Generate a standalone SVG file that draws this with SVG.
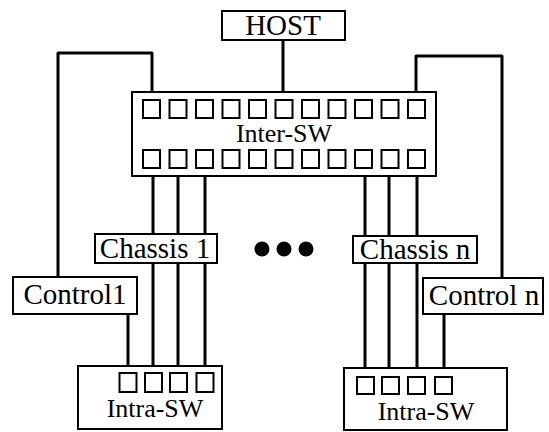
<svg xmlns="http://www.w3.org/2000/svg" width="549" height="432" viewBox="0 0 549 432">
<style>
.box{fill:#fff;stroke:#000;stroke-width:2}
.port{fill:#fff;stroke:#000;stroke-width:2}
.wire{fill:none;stroke:#000;stroke-width:3;stroke-linejoin:round}
.lbl{font-family:"Liberation Serif","Times New Roman",serif;font-size:29px;fill:#000;text-anchor:middle}
.sw{font-family:"Liberation Serif","Times New Roman",serif;font-size:26px;fill:#000;text-anchor:middle}
.dot{fill:#000}
</style>
<rect width="549" height="432" fill="#fff"/>
<g id="connectors">
<line class="wire" x1="283" y1="40" x2="283" y2="100"/>
<path class="wire" d="M152,100 V53 H58 V277"/>
<path class="wire" d="M416,100 V56 H502 V278"/>
<line class="wire" x1="153" y1="168" x2="153" y2="373"/>
<line class="wire" x1="178" y1="168" x2="178" y2="373"/>
<line class="wire" x1="205" y1="168" x2="205" y2="373"/>
<line class="wire" x1="128" y1="314" x2="128" y2="373"/>
<line class="wire" x1="365" y1="168" x2="365" y2="377"/>
<line class="wire" x1="389" y1="168" x2="389" y2="377"/>
<line class="wire" x1="417" y1="168" x2="417" y2="377"/>
<line class="wire" x1="444" y1="314" x2="444" y2="377"/>
</g>
<g id="host">
<rect class="box" x="222" y="11" width="123" height="29"/>
<text class="lbl" x="283" y="35">HOST</text>
</g>
<g id="inter-sw">
<rect class="box" x="132" y="92" width="304" height="84"/>
<g class="port">
<rect x="143" y="100" width="17" height="18"/><rect x="169.5" y="100" width="17" height="18"/><rect x="196" y="100" width="17" height="18"/><rect x="222.5" y="100" width="17" height="18"/><rect x="249" y="100" width="17" height="18"/><rect x="275.5" y="100" width="17" height="18"/><rect x="302" y="100" width="17" height="18"/><rect x="328.5" y="100" width="17" height="18"/><rect x="355" y="100" width="17" height="18"/><rect x="381.5" y="100" width="17" height="18"/><rect x="408" y="100" width="17" height="18"/>
<rect x="143" y="150" width="17" height="18"/><rect x="169.5" y="150" width="17" height="18"/><rect x="196" y="150" width="17" height="18"/><rect x="222.5" y="150" width="17" height="18"/><rect x="249" y="150" width="17" height="18"/><rect x="275.5" y="150" width="17" height="18"/><rect x="302" y="150" width="17" height="18"/><rect x="328.5" y="150" width="17" height="18"/><rect x="355" y="150" width="17" height="18"/><rect x="381.5" y="150" width="17" height="18"/><rect x="408" y="150" width="17" height="18"/>
</g>
<text class="sw" x="284" y="142">Inter-SW</text>
</g>
<g id="chassis-1">
<rect class="box" x="95" y="234" width="122" height="29"/>
<text class="lbl" x="155" y="258">Chassis 1</text>
</g>
<g id="dots">
<circle class="dot" cx="262" cy="249" r="7.5"/>
<circle class="dot" cx="284" cy="249" r="7.5"/>
<circle class="dot" cx="306" cy="249" r="7.5"/>
</g>
<g id="chassis-n">
<rect class="box" x="353" y="236" width="124" height="27"/>
<text class="lbl" x="415" y="259">Chassis n</text>
</g>
<g id="control-1">
<rect class="box" x="13" y="277" width="124" height="37"/>
<text class="lbl" x="75" y="304">Control1</text>
</g>
<g id="control-n">
<rect class="box" x="423" y="278" width="120" height="36"/>
<text class="lbl" x="484" y="305">Control n</text>
</g>
<g id="intra-sw-1">
<rect class="box" x="78" y="366" width="144" height="63"/>
<g class="port">
<rect x="119.5" y="373" width="17" height="19"/><rect x="145" y="373" width="17" height="19"/><rect x="170" y="373" width="17" height="19"/><rect x="196.5" y="373" width="17" height="19"/>
</g>
<text class="sw" x="155" y="417">Intra-SW</text>
</g>
<g id="intra-sw-n">
<rect class="box" x="344" y="368" width="163" height="62"/>
<g class="port">
<rect x="357" y="377" width="17" height="17"/><rect x="382" y="377" width="17" height="17"/><rect x="408" y="377" width="17" height="17"/><rect x="435" y="377" width="17" height="17"/>
</g>
<text class="sw" x="426" y="420">Intra-SW</text>
</g>
</svg>
